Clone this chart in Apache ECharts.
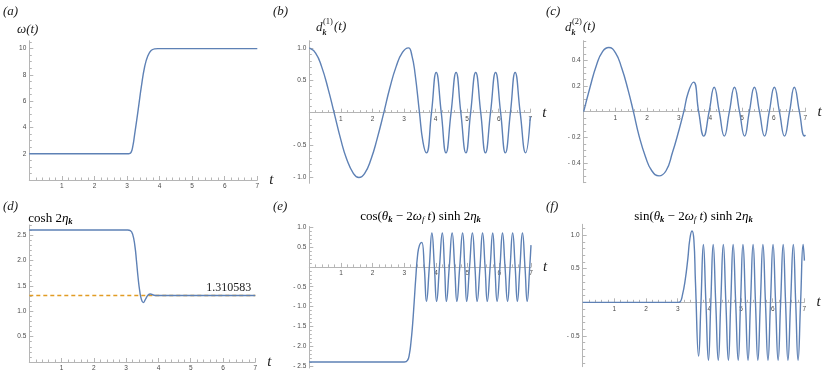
<!DOCTYPE html>
<html><head><meta charset="utf-8">
<script src="https://cdn.jsdelivr.net/npm/echarts@6/dist/echarts.min.js"></script>
<style>html,body{margin:0;padding:0;background:#fff}#c{width:824px;height:374px}</style>
</head><body><div id="c"></div>
<script>
// ---------- data ----------
// (a) omega(t)
const aT = [0, 3.05, 3.12, 3.18, 3.23, 3.34, 3.44, 3.54, 3.64, 3.74, 3.85, 3.95, 7];
const aV = [2, 2, 2.08, 2.6, 3.4, 5.3, 7.1, 8.6, 9.45, 9.85, 9.98, 10, 10];
// (b) d_k^(1)(t)
const bT = [0, 0.2, 0.39, 0.6, 0.785, 1.0, 1.18, 1.4, 1.57, 1.75, 1.96, 2.15, 2.36, 2.55, 2.75, 2.95, 3.14,
            3.25, 3.35, 3.49, 3.6, 3.71, 3.87, 4.02, 4.18, 4.33, 4.49, 4.65, 4.80, 4.96, 5.11, 5.27, 5.43,
            5.58, 5.74, 5.90, 6.06, 6.21, 6.37, 6.52, 6.68, 6.85, 7.0];
const bV = [1, 0.92, 0.71, 0.36, 0, -0.42, -0.71, -0.94, -1, -0.94, -0.71, -0.40, 0, 0.38, 0.71, 0.93, 1,
            0.88, 0.6, 0, -0.45, -0.62, 0, 0.62, 0, -0.62, 0, 0.62, 0, -0.62, 0, 0.62, 0,
            -0.62, 0, 0.62, 0, -0.62, 0, 0.62, 0, -0.62, -0.06];
// (c) d_k^(2)(t)
const cT = [0, 0.2, 0.4, 0.6, 0.79, 1.0, 1.2, 1.4, 1.57, 1.75, 1.95, 2.15, 2.38, 2.6, 2.8, 3.0, 3.16,
            3.3, 3.47, 3.63, 3.79, 3.96, 4.12, 4.28, 4.44, 4.60, 4.76, 4.92, 5.08, 5.23, 5.39, 5.55,
            5.71, 5.86, 6.02, 6.18, 6.34, 6.50, 6.65, 6.81, 6.97, 7.0];
const cV = [0, 0.19, 0.36, 0.47, 0.5, 0.46, 0.34, 0.17, 0, -0.19, -0.35, -0.46, -0.5, -0.46, -0.32, -0.15, 0,
            0.15, 0.23, 0, -0.19, 0, 0.19, 0, -0.19, 0, 0.19, 0, -0.19, 0, 0.19, 0,
            -0.19, 0, 0.19, 0, -0.19, 0, 0.19, 0, -0.19, -0.18];
// (d) cosh 2 eta_k
const dT = [0, 3.05, 3.13, 3.2, 3.27, 3.32, 3.37, 3.42, 3.47, 3.53, 3.6, 3.68, 3.75, 3.84, 3.95, 7];
const dV = [2.6, 2.6, 2.59, 2.52, 2.29, 1.99, 1.66, 1.40, 1.24, 1.17, 1.24, 1.32, 1.34, 1.32, 1.31, 1.31];
const dRef = 1.310583;
// (e) cos(theta - 2 w_f t) sinh 2 eta
const eT = [0, 3.0, 3.1, 3.16, 3.21, 3.26, 3.31, 3.36, 3.42, 3.48, 3.55, 3.63, 3.70, 3.79, 3.87, 3.95,
            4.02, 4.11, 4.20, 4.27, 4.33, 4.42, 4.51, 4.59, 4.66, 4.75, 4.84, 4.91, 4.97, 5.06, 5.15,
            5.23, 5.30, 5.39, 5.47, 5.55, 5.62, 5.71, 5.79, 5.86, 5.93, 6.02, 6.10, 6.18, 6.26, 6.34,
            6.42, 6.50, 6.57, 6.65, 6.73, 6.81, 6.88, 6.96, 7.0];
const eV = [-2.4, -2.4, -2.36, -2.2, -1.9, -1.47, -0.9, -0.3, 0.3, 0.55, 0.62, 0, -0.87, 0, 0.86, 0,
            -0.87, 0, 0.86, 0, -0.87, 0, 0.86, 0, -0.87, 0, 0.86, 0, -0.87, 0, 0.86,
            0, -0.87, 0, 0.86, 0, -0.87, 0, 0.86, 0, -0.87, 0, 0.86, 0, -0.87, 0,
            0.86, 0, -0.87, 0, 0.86, 0, -0.87, 0, 0.55];
// (f) sin(theta - 2 w_f t) sinh 2 eta
const fT = [0, 3.0, 3.08, 3.15, 3.23, 3.32, 3.38, 3.45, 3.51, 3.56, 3.66, 3.735, 3.81, 3.89, 3.97, 4.045,
            4.12, 4.20, 4.28, 4.36, 4.44, 4.52, 4.60, 4.675, 4.75, 4.83, 4.91, 4.985, 5.06, 5.14, 5.22,
            5.30, 5.38, 5.455, 5.53, 5.61, 5.69, 5.77, 5.85, 5.93, 6.01, 6.09, 6.17, 6.25, 6.33, 6.405,
            6.48, 6.565, 6.65, 6.725, 6.80, 6.88, 6.96, 7.0];
const fV = [0, 0, 0.01, 0.11, 0.31, 0.65, 0.93, 1.06, 0.93, 0.3, -0.80, 0, 0.86, 0, -0.86, 0,
            0.86, 0, -0.86, 0, 0.86, 0, -0.86, 0, 0.86, 0, -0.86, 0, 0.86, 0, -0.86,
            0, 0.86, 0, -0.86, 0, 0.86, 0, -0.86, 0, 0.86, 0, -0.86, 0, 0.86, 0,
            -0.86, 0, 0.86, 0, -0.86, 0, 0.86, 0.62];
// tick labels
const xTicks = [1, 2, 3, 4, 5, 6, 7];
const aYTicks = [2, 4, 6, 8, 10];
const bYTicks = [-1, -0.5, 0.5, 1];
const cYTicks = [-0.4, -0.2, 0.2, 0.4];
const dYTicks = [0.5, 1, 1.5, 2, 2.5];
const eYTicks = [-2.5, -2, -1.5, -1, -0.5, 0.5, 1];
const fYTicks = [-0.5, 0.5, 1];

// ---------- styling ----------
const LINE = '#5E81B5', ORANGE = '#E19C24', AX = '#b5b5b5', LBL = '#4a4a4a';
const SERIF = '"Liberation Serif", "DejaVu Serif", serif';
const SANS = '"Liberation Sans", Arial, sans-serif';
const TICKFS = 6.5;

function zip(t, v) { return t.map((x, i) => [x, v[i]]); }
function minors(lo, hi, step, majors) {
  const out = [];
  const s = Math.ceil(lo / step - 1e-9);
  const e = Math.floor(hi / step + 1e-9);
  for (let i = s; i <= e; i++) {
    const v = +(i * step).toFixed(6);
    if (Math.abs(v) < 1e-9) continue;
    if (majors.some(m => Math.abs(m - v) < 1e-6)) continue;
    out.push(v);
  }
  return out;
}
function fmt(dec) { return v => { const s = Math.abs(v).toFixed(dec); return v < 0 ? '- ' + s : s; }; }

const option = { animation: false, grid: [], xAxis: [], yAxis: [], series: [], graphic: [] };

function panel(p) {
  const gi = option.grid.length;
  option.grid.push({ left: p.left, top: p.top, width: p.width, height: p.height });
  const xi = option.xAxis.length, yi = option.yAxis.length;
  const xMinor = minors(0, 7, 0.2, xTicks);
  const yMinor = minors(p.ymin, p.ymax, p.yStep, p.yTicks);
  // x axis sits on y = 0: shift it up from the grid bottom
  const off = -p.height * (0 - p.ymin) / (p.ymax - p.ymin);
  option.xAxis.push({
    type: 'value', gridIndex: gi, min: 0, max: 7, position: 'bottom', offset: off,
    axisLine: { show: true, onZero: false, lineStyle: { color: AX, width: 1 } },
    axisTick: { show: true, inside: true, length: 4, customValues: xTicks, lineStyle: { color: AX, width: 1 } },
    axisLabel: { show: true, customValues: xTicks, fontSize: TICKFS, fontFamily: SANS, color: LBL, margin: 3, formatter: v => String(v) },
    splitLine: { show: false },
    name: 't', nameLocation: 'end', nameGap: 12,
    nameTextStyle: { fontFamily: SERIF, fontStyle: 'italic', fontSize: 15, color: '#222', padding: [5, 0, 0, 0] }
  });
  option.xAxis.push({
    type: 'value', gridIndex: gi, min: 0, max: 7, position: 'bottom', offset: off,
    axisLine: { show: false, onZero: false },
    axisTick: { show: true, inside: true, length: 2.5, customValues: xMinor, lineStyle: { color: AX, width: 1 } },
    axisLabel: { show: false }, splitLine: { show: false }
  });
  option.yAxis.push({
    type: 'value', gridIndex: gi, min: p.ymin, max: p.ymax, position: 'left',
    axisLine: { show: true, onZero: false, lineStyle: { color: AX, width: 1 } },
    axisTick: { show: true, inside: true, length: 4, customValues: p.yTicks, lineStyle: { color: AX, width: 1 } },
    axisLabel: { show: true, customValues: p.yTicks, fontSize: TICKFS, fontFamily: SANS, color: LBL, margin: 3, formatter: fmt(p.dec) },
    splitLine: { show: false }
  });
  option.yAxis.push({
    type: 'value', gridIndex: gi, min: p.ymin, max: p.ymax, position: 'left',
    axisLine: { show: false, onZero: false },
    axisTick: { show: true, inside: true, length: 2.5, customValues: yMinor, lineStyle: { color: AX, width: 1 } },
    axisLabel: { show: false }, splitLine: { show: false }
  });
  option.series.push({
    type: 'line', xAxisIndex: xi, yAxisIndex: yi, data: zip(p.T, p.V),
    showSymbol: false, symbol: 'none', smooth: 0.5, silent: true,
    lineStyle: { color: LINE, width: 1.4 }, z: 3
  });
  return { xi, yi, gi };
}

panel({ left: 29.3, top: 40.7, width: 228, height: 139.3, ymin: 0, ymax: 10.6, yTicks: aYTicks, yStep: 0.5, dec: 0, T: aT, V: aV });
panel({ left: 309.3, top: 40.7, width: 221, height: 142.6, ymin: -1.09, ymax: 1.11, yTicks: bYTicks, yStep: 0.1, dec: 1, T: bT, V: bV });
panel({ left: 583.7, top: 40.7, width: 221.7, height: 142, ymin: -0.553, ymax: 0.553, yTicks: cYTicks, yStep: 0.05, dec: 1, T: cT, V: cV });
const pd = panel({ left: 29.3, top: 225, width: 226, height: 137, ymin: 0, ymax: 2.70, yTicks: dYTicks, yStep: 0.1, dec: 1, T: dT, V: dV });
panel({ left: 309.3, top: 226.5, width: 221.7, height: 141.5, ymin: -2.55, ymax: 1.02, yTicks: eYTicks, yStep: 0.1, dec: 1, T: eT, V: eV });
panel({ left: 582.7, top: 224.3, width: 221.7, height: 142.4, ymin: -0.957, ymax: 1.16, yTicks: fYTicks, yStep: 0.1, dec: 1, T: fT, V: fV });

// reference line in (d)
option.series.push({
  type: 'line', xAxisIndex: pd.xi, yAxisIndex: pd.yi, data: [[0, dRef], [7, dRef]],
  showSymbol: false, symbol: 'none', silent: true, z: 2,
  lineStyle: { color: ORANGE, width: 1.4, type: [4, 3] }
});

// ---------- text ----------
function txt(x, y, text, extra) {
  return { type: 'text', x: x, y: y, style: Object.assign({ text: text, fill: '#1a1a1a', fontFamily: SERIF, fontSize: 13, fontStyle: 'italic', verticalAlign: 'middle', align: 'left' }, extra || {}) };
}
const G = option.graphic;
G.push(txt(3, 12, '(a)'));
G.push(txt(273, 12, '(b)'));
G.push(txt(546, 12, '(c)'));
G.push(txt(3, 207, '(d)'));
G.push(txt(273, 207, '(e)'));
G.push(txt(546, 207, '(f)'));
G.push(txt(17, 30, 'ω(t)'));
// d_k^(1)(t)
G.push(txt(316, 28, 'd'));
G.push(txt(323, 21.5, '(1)', { fontStyle: 'normal', fontSize: 8.5 }));
G.push(txt(322.5, 32.5, 'k', { fontWeight: 'bold', fontSize: 8 }));
G.push(txt(334, 27, '(t)'));
// d_k^(2)(t)
G.push(txt(565, 28, 'd'));
G.push(txt(572, 21.5, '(2)', { fontStyle: 'normal', fontSize: 8.5 }));
G.push(txt(571.5, 32.5, 'k', { fontWeight: 'bold', fontSize: 8 }));
G.push(txt(583, 27, '(t)'));

const rich = {
  r: { fontFamily: SERIF, fontSize: 13, fontStyle: 'normal', color: '#1a1a1a' },
  i: { fontFamily: SERIF, fontSize: 13, fontStyle: 'italic', color: '#1a1a1a' },
  s: { fontFamily: SERIF, fontSize: 8.5, fontStyle: 'italic', fontWeight: 'bold', color: '#1a1a1a', padding: [6, 0, 0, 0] },
  t: { fontFamily: SERIF, fontSize: 8.5, fontStyle: 'italic', color: '#1a1a1a', padding: [6, 0, 0, 0] }
};
G.push({ type: 'text', x: 28.3, y: 218.5, style: { text: '{r|cosh 2}{i|η}{s|k}', rich: rich, align: 'left', verticalAlign: 'middle' } });
G.push({ type: 'text', x: 420.5, y: 217, style: { text: '{r|cos(}{i|θ}{s|k}{r| − 2}{i|ω}{t|f}{i| t}{r|) sinh 2}{i|η}{s|k}', rich: rich, align: 'center', verticalAlign: 'middle' } });
G.push({ type: 'text', x: 693.5, y: 217, style: { text: '{r|sin(}{i|θ}{s|k}{r| − 2}{i|ω}{t|f}{i| t}{r|) sinh 2}{i|η}{s|k}', rich: rich, align: 'center', verticalAlign: 'middle' } });

const chart = echarts.init(document.getElementById('c'), null, { renderer: 'canvas' });
chart.setOption(option);
// value label of the reference line, anchored at its right end
const endPx = chart.convertToPixel({ xAxisIndex: pd.xi, yAxisIndex: pd.yi }, [7, dRef]);
chart.setOption({ graphic: option.graphic.concat([{ type: 'text', x: endPx[0] - 4, y: endPx[1] - 8, style: { text: String(dRef), fontFamily: SERIF, fontSize: 12, fill: '#1a1a1a', align: 'right', verticalAlign: 'middle' } }]) });
</script>
</body></html>
